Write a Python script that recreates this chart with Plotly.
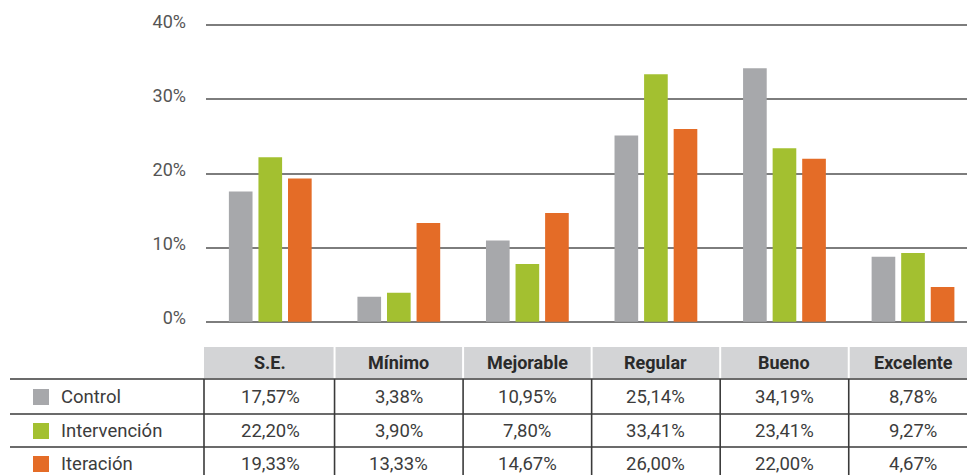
import plotly.graph_objects as go

categories = ["S.E.", "Mínimo", "Mejorable", "Regular", "Bueno", "Excelente"]
series_names = ["Control", "Intervención", "Iteración"]
control = [17.57, 3.38, 10.95, 25.14, 34.19, 8.78]
intervencion = [22.20, 3.90, 7.80, 33.41, 23.41, 9.27]
iteracion = [19.33, 13.33, 14.67, 26.00, 22.00, 4.67]
colors = ["#a7a8ab", "#a3c030", "#e46c27"]
y_ticks = [0, 10, 20, 30, 40]
y_tick_text = ["0%", "10%", "20%", "30%", "40%"]

W, H = 967, 475
L = 206
PW = W - L
FONT = "Roboto"

Y0_PX, Y40_PX = 321.7, 25.3
PAD = 0.6  # axis units of padding so edge gridlines are kept
unit_px = (Y0_PX - Y40_PX) / 40.0


def py(p):
    return 1 - p / H


def px(p):
    return (p - L) / PW


def fmt(v):
    return f"{v:.2f}".replace(".", ",") + "%"


series = [control, intervencion, iteracion]
xi = list(range(len(categories)))

fig = go.Figure()
for name, vals, col in zip(series_names, series, colors):
    fig.add_trace(go.Bar(x=xi, y=vals, name=name, marker=dict(color=col, line=dict(width=0)),
                         hoverinfo="x+y"))

shapes = []
annotations = []

# header fill
shapes.append(dict(type="rect", xref="paper", yref="paper", x0=px(204), x1=1,
                   y0=py(378), y1=py(347), fillcolor="#d3d4d6", line=dict(width=0), layer="below"))
# white separators in header
for i in range(len(categories) - 1):
    shapes.append(dict(type="line", xref="x", yref="paper", x0=i + 0.5, x1=i + 0.5,
                       y0=py(378), y1=py(347), line=dict(color="white", width=2)))
# horizontal row lines
for yy in [379, 414, 447]:
    shapes.append(dict(type="line", xref="paper", yref="paper", x0=px(10), x1=1,
                       y0=py(yy), y1=py(yy), line=dict(color="#3a3a3a", width=1.6)))
# vertical lines in body
shapes.append(dict(type="line", xref="paper", yref="paper", x0=px(204), x1=px(204),
                   y0=py(379), y1=0, line=dict(color="#3a3a3a", width=1.6)))
for i in range(len(categories) - 1):
    shapes.append(dict(type="line", xref="x", yref="paper", x0=i + 0.5, x1=i + 0.5,
                       y0=py(379), y1=0, line=dict(color="#3a3a3a", width=1.6)))

# header labels
for i, c in enumerate(categories):
    annotations.append(dict(x=i, xref="x", y=py(362.5), yref="paper", text=f"<b>{c}</b>",
                            showarrow=False, font=dict(family=FONT, size=18, color="#2a2a2a"),
                            xanchor="center", yanchor="middle"))

row_centers = [397, 431, 464]
for r, (name, vals, col) in enumerate(zip(series_names, series, colors)):
    yc = row_centers[r]
    shapes.append(dict(type="rect", xref="paper", yref="paper", x0=px(33), x1=px(49),
                       y0=py(yc + 8), y1=py(yc - 8), fillcolor=col, line=dict(width=0)))
    annotations.append(dict(x=px(59), xref="paper", y=py(yc), yref="paper", text=name,
                            showarrow=False, font=dict(family=FONT, size=18.5, color="#3c3c3c"),
                            xanchor="left", yanchor="middle"))
    for i, v in enumerate(vals):
        annotations.append(dict(x=i, xref="x", y=py(yc), yref="paper", text=fmt(v),
                                showarrow=False, font=dict(family=FONT, size=18.5, color="#3c3c3c"),
                                xanchor="center", yanchor="middle"))

fig.update_layout(
    width=W, height=H,
    margin=dict(l=L, r=0, t=0, b=0, pad=0, autoexpand=False),
    paper_bgcolor="white", plot_bgcolor="white",
    barmode="group", bargap=0.31, bargroupgap=0.2,
    showlegend=False,
    font=dict(family=FONT),
    xaxis=dict(range=[-0.5, 5.42], showticklabels=False, showgrid=False, zeroline=False,
               showline=False, ticks="", fixedrange=True),
    yaxis=dict(domain=[py(Y0_PX + PAD * unit_px), py(Y40_PX - PAD * unit_px)],
               range=[-PAD, 40 + PAD], tickvals=y_ticks, ticktext=y_tick_text,
               showgrid=True, gridcolor="#7d7d7d", gridwidth=1.6, zeroline=False,
               showline=False, ticks="", ticklabelstandoff=19, ticklabelshift=-4,
               tickfont=dict(family=FONT, size=18, color="#555555"), fixedrange=True),
    shapes=shapes,
    annotations=annotations,
)

fig.write_html("out.html", config={"displayModeBar": False},
               post_script="document.body.style.margin='0';document.body.style.padding='0';"
                           "document.body.style.overflow='hidden';")
